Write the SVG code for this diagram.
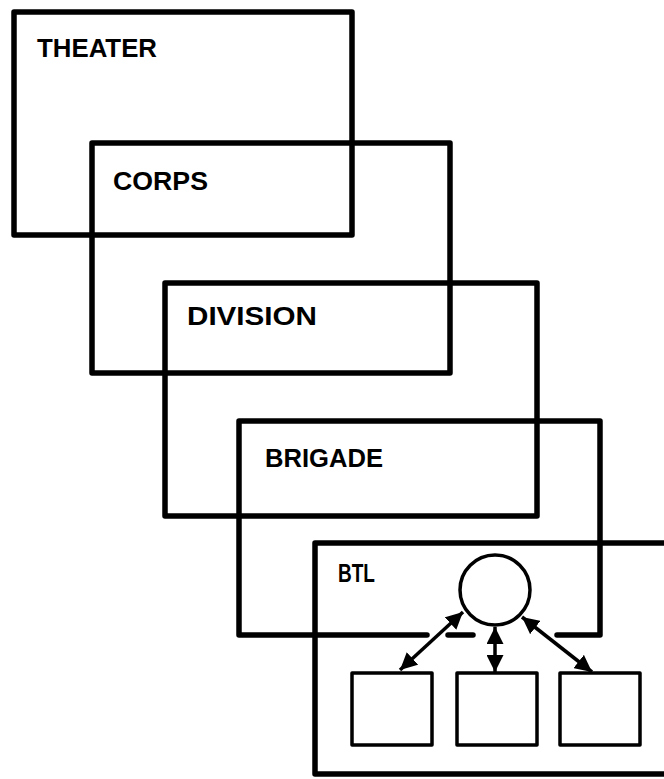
<svg xmlns="http://www.w3.org/2000/svg" width="664" height="779" viewBox="0 0 664 779">
<style>
.box{fill:none;stroke:#000;stroke-width:5.5;stroke-linejoin:round;stroke-linecap:round}
.sm{fill:#fff;stroke:#000;stroke-width:3.5;stroke-linejoin:round}
.lbl{font-family:"Liberation Sans",Arial,sans-serif;font-size:25px;font-weight:bold;fill:#000}
.arr{stroke:#000;stroke-width:3.5;fill:none}
</style>
<defs>
<marker id="ah" viewBox="0 0 10 10" refX="10" refY="5" markerUnits="userSpaceOnUse" markerWidth="17" markerHeight="17" orient="auto-start-reverse">
<path d="M0,0 L10,5 L0,10 z" fill="#000"/>
</marker>
</defs>
<rect width="664" height="779" fill="#fff"/>
<g id="theater">
<rect class="box" x="14" y="12" width="338" height="223"/>
<text class="lbl" x="37" y="57" textLength="120" lengthAdjust="spacingAndGlyphs">THEATER</text>
</g>
<g id="corps">
<rect class="box" x="92" y="143" width="358" height="230"/>
<text class="lbl" x="113" y="190" textLength="95" lengthAdjust="spacingAndGlyphs">CORPS</text>
</g>
<g id="division">
<rect class="box" x="165" y="283" width="372" height="233"/>
<text class="lbl" x="187" y="325" textLength="130" lengthAdjust="spacingAndGlyphs">DIVISION</text>
</g>
<g id="brigade">
<path class="box" d="M427,635 L239,635 L239,421 L600,421 L600,635 L557,635"/>
<path class="box" d="M448,635 L473,635"/>
<text class="lbl" x="265" y="467" textLength="118" lengthAdjust="spacingAndGlyphs">BRIGADE</text>
</g>
<g id="btl">
<path class="box" d="M680,543 L315,543 L315,774 L680,774"/>
<text class="lbl" x="338" y="582" textLength="37" lengthAdjust="spacingAndGlyphs">BTL</text>
</g>
<g id="hub">
<circle class="sm" cx="495" cy="590" r="35"/>
</g>
<g id="unit1"><rect class="sm" x="352" y="673" width="80" height="72"/></g>
<g id="unit2"><rect class="sm" x="457" y="673" width="80" height="72"/></g>
<g id="unit3"><rect class="sm" x="560" y="673" width="80" height="72"/></g>
<g id="connectors">
<line class="arr" x1="463" y1="612" x2="400" y2="670" marker-start="url(#ah)" marker-end="url(#ah)"/>
<line class="arr" x1="495" y1="627" x2="495" y2="672" marker-start="url(#ah)" marker-end="url(#ah)"/>
<line class="arr" x1="522" y1="617" x2="592" y2="672" marker-start="url(#ah)" marker-end="url(#ah)"/>
</g>
</svg>
